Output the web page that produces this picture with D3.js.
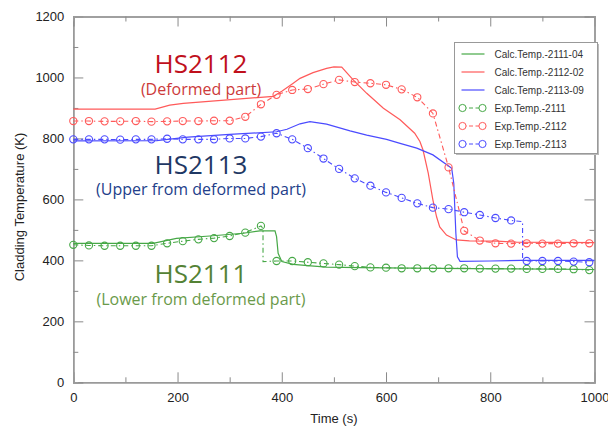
<!DOCTYPE html>
<html>
<head>
<meta charset="utf-8">
<script src="https://cdn.jsdelivr.net/npm/d3@7.9.0/dist/d3.min.js"></script>
<style>
  body { margin: 0; background: #fff; }
  svg { display: block; }
  .tick text { font-family: Arial, "Liberation Sans", sans-serif; font-size: 13px; fill: #222; }
</style>
</head>
<body>
<svg id="chart" width="608" height="426"></svg>
<script>
// experimental readings, one every 30 s
const expTime = [0, 30, 60, 90, 120, 150, 180, 210, 240, 270, 300, 330, 360, 390, 420, 450, 480,
  510, 540, 570, 600, 630, 660, 690, 720, 750, 780, 810, 840, 870, 900, 930, 960, 990];
const exp2111 = [451, 449, 448, 448, 448, 448, 456, 463, 469, 473, 480, 491, 513, 398, 398, 394, 390,
  386, 381, 377, 376, 374, 374, 374, 374, 374, 373, 373, 373, 372, 372, 372, 371, 368];
const exp2112 = [857, 857, 856, 856, 857, 855, 856, 857, 857, 858, 858, 871, 912, 943, 959, 962, 978,
  992, 985, 981, 976, 961, 935, 882, 705, 497, 465, 456, 455, 456, 455, 455, 456, 456];
const exp2113 = [797, 797, 797, 796, 797, 797, 799, 797, 797, 797, 800, 800, 806, 817, 797, 768, 734,
  700, 669, 645, 623, 605, 587, 573, 568, 558, 549, 539, 531, 398, 398, 398, 396, 394];
// where the logged signal jumps between two readings
const expStep2111 = [[364, 505], [364, 396]];
const expStep2113 = [[862, 527], [862, 400]];

// calculated histories [time, temperature]
const calc2111 = [[0, 456], [153, 456], [198, 472], [262, 480], [326, 489], [358, 497], [387, 497],
  [390, 478], [393, 423], [400, 396], [422, 387], [450, 383], [486, 378], [550, 376], [700, 374],
  [850, 372], [1000, 370]];
const calc2112 = [[0, 896], [157, 896], [185, 909], [211, 915], [384, 938], [400, 955], [422, 981],
  [435, 997], [460, 1016], [486, 1030], [500, 1035], [515, 1034], [537, 992], [563, 948], [595, 899],
  [627, 861], [655, 817], [665, 790], [671, 762], [681, 686], [690, 598], [697, 543], [703, 510],
  [716, 483], [735, 467], [760, 464], [813, 463], [850, 460], [1000, 458]];
const calc2113 = [[0, 792], [160, 793], [220, 804], [300, 813], [390, 822], [410, 830], [435, 848],
  [454, 855], [486, 847], [531, 825], [563, 811], [601, 797], [627, 784], [659, 768], [690, 746],
  [722, 707], [726, 702], [730, 653], [734, 489], [737, 412], [742, 397], [800, 398], [860, 400],
  [1000, 400]];

const xTicks = [0, 200, 400, 600, 800, 1000];
const yTicks = [0, 200, 400, 600, 800, 1000, 1200];
const xMinor = [100, 300, 500, 700, 900];
const yMinor = [100, 300, 500, 700, 900, 1100];

const legendNames = ["Calc.Temp.-2111-04", "Calc.Temp.-2112-02", "Calc.Temp.-2113-09",
  "Exp.Temp.-2111", "Exp.Temp.-2112", "Exp.Temp.-2113"];

const green = "#46a846", red = "#ff5a5a", blue = "#4b4bff";

const svg = d3.select("#chart");
const mLeft = 73.3, mRight = 594.5, mTop = 16.5, mBottom = 382.3;
const x = d3.scaleLinear().domain([0, 1000]).range([mLeft, mRight]);
const y = d3.scaleLinear().domain([0, 1200]).range([mBottom, mTop]);

// axes, ticks pointing inwards
function drawAxis(axis, tr) {
  const g = svg.append("g").attr("transform", tr).call(axis);
  g.select(".domain").attr("stroke", "#9a9a9a").attr("stroke-width", 1.5);
  g.selectAll(".tick line").attr("stroke", "#8a8a8a");
  return g;
}
drawAxis(d3.axisBottom(x).tickValues(xTicks).tickSize(-10).tickPadding(10.5).tickFormat(d3.format("d")),
  `translate(0,${mBottom})`);
drawAxis(d3.axisBottom(x).tickValues(xMinor).tickSize(-5).tickFormat(""), `translate(0,${mBottom})`);
drawAxis(d3.axisLeft(y).tickValues(yTicks).tickSize(-10).tickPadding(9).tickFormat(d3.format("d")),
  `translate(${mLeft},0)`);
drawAxis(d3.axisLeft(y).tickValues(yMinor).tickSize(-5).tickFormat(""), `translate(${mLeft},0)`);
drawAxis(d3.axisTop(x).tickValues(xTicks).tickSize(-10).tickFormat(""), `translate(0,${mTop})`);
drawAxis(d3.axisTop(x).tickValues(xMinor).tickSize(-5).tickFormat(""), `translate(0,${mTop})`);
drawAxis(d3.axisRight(y).tickValues(yTicks).tickSize(-10).tickFormat(""), `translate(${mRight},0)`);
drawAxis(d3.axisRight(y).tickValues(yMinor).tickSize(-5).tickFormat(""), `translate(${mRight},0)`);

svg.append("text")
  .attr("x", (mLeft + mRight) / 2).attr("y", 423)
  .attr("text-anchor", "middle")
  .style("font-family", "Arial, 'Liberation Sans', sans-serif").style("font-size", "13px").style("fill", "#222")
  .text("Time (s)");
svg.append("text")
  .attr("transform", "translate(24,207) rotate(-90)")
  .attr("text-anchor", "middle")
  .style("font-family", "Arial, 'Liberation Sans', sans-serif").style("font-size", "13px").style("fill", "#222")
  .text("Cladding Temperature (K)");

const line = d3.line().x(d => x(d[0])).y(d => y(d[1]));
const dash = "5,3,1.5,3";

// experimental data: dash-dot line + open circles
function expSeries(values, step, color) {
  let pts = expTime.map((t, i) => [t, values[i]]);
  if (step) {
    const at = step[0][0];
    pts = pts.filter(p => p[0] < at).concat(step, pts.filter(p => p[0] > at));
  }
  svg.append("path").attr("d", line(pts)).attr("fill", "none")
    .attr("stroke", color).attr("stroke-width", 1.1).attr("stroke-dasharray", dash);
  svg.append("g").selectAll("circle").data(expTime.map((t, i) => [t, values[i]])).join("circle")
    .attr("cx", d => x(d[0])).attr("cy", d => y(d[1])).attr("r", 3.6)
    .attr("fill", "none").attr("stroke", color).attr("stroke-width", 1.1);
}
function calcSeries(pts, color) {
  svg.append("path").attr("d", line(pts)).attr("fill", "none")
    .attr("stroke", color).attr("stroke-width", 1.2);
}

calcSeries(calc2111, green);
calcSeries(calc2112, red);
calcSeries(calc2113, blue);
expSeries(exp2111, expStep2111, green);
expSeries(exp2112, null, red);
expSeries(exp2113, expStep2113, blue);

// annotations
const labels = [
  { text: "HS2112", y: 73, size: 26, color: "#c0101c" },
  { text: "(Deformed part)", y: 95, size: 16, color: "#cc3a3a" },
  { text: "HS2113", y: 174, size: 26, color: "#1f3864" },
  { text: "(Upper from deformed part)", y: 195, size: 16, color: "#23408a" },
  { text: "HS2111", y: 283, size: 26, color: "#548235" },
  { text: "(Lower from deformed part)", y: 305, size: 16, color: "#6a9a4a" }
];
svg.append("g").selectAll("text").data(labels).join("text")
  .attr("x", 201).attr("y", d => d.y).attr("text-anchor", "middle")
  .style("font-family", "'Open Sans', 'Noto Sans', sans-serif")
  .style("font-size", d => d.size + "px").style("fill", d => d.color)
  .text(d => d.text);

// legend
const lg = svg.append("g").attr("transform", "translate(454.5,42.5)");
lg.append("rect").attr("x", 1.5).attr("y", 1.5).attr("width", 143).attr("height", 111).attr("fill", "#bbb");
lg.append("rect").attr("width", 143).attr("height", 111).attr("fill", "#fff").attr("stroke", "#999");
const legendColors = [green, red, blue, green, red, blue];
legendNames.forEach((name, i) => {
  const ry = 11.5 + i * 18;
  const row = lg.append("g").attr("transform", `translate(0,${ry})`);
  if (i < 3) {
    row.append("line").attr("x1", 7).attr("x2", 30).attr("stroke", legendColors[i]).attr("stroke-width", 1.2);
  } else {
    row.append("line").attr("x1", 8).attr("x2", 28).attr("stroke", legendColors[i])
      .attr("stroke-width", 1).attr("stroke-dasharray", "4,2.5");
    [8, 28].forEach(cx => row.append("circle").attr("cx", cx).attr("r", 3.6)
      .attr("fill", "#fff").attr("stroke", legendColors[i]));
  }
  row.append("text").attr("x", 40).attr("y", 3.6)
    .style("font-family", "Arial, 'Liberation Sans', sans-serif").style("font-size", "10px").style("fill", "#333")
    .text(name);
});
</script>
</body>
</html>
